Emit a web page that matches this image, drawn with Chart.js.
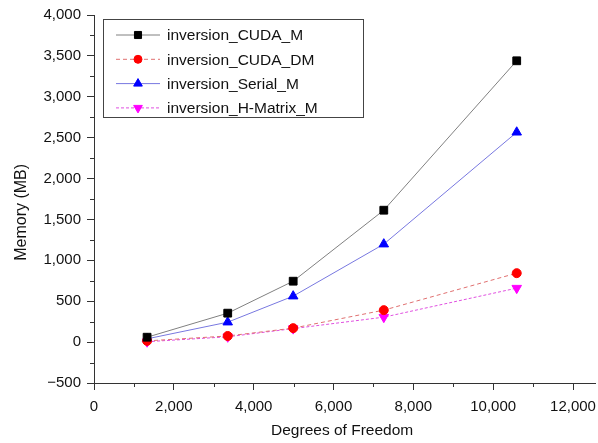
<!DOCTYPE html>
<html>
<head>
<meta charset="utf-8">
<script src="https://cdn.jsdelivr.net/npm/chart.js@4.4.0/dist/chart.umd.min.js"></script>
<style>
  body { margin: 0; background: #fff; }
  #wrap { width: 598px; height: 443px; }
</style>
</head>
<body>
<div id="wrap"><canvas id="memChart" width="598" height="443"></canvas></div>
<script>
// Data
const dof = [1330, 3350, 4990, 7260, 10590];
const cudaM = [60, 354, 745, 1613, 3440];
const cudaDM = [15, 75, 171, 391, 843];
const serialM = [40, 244, 562, 1198, 2566];
const hMatrixM = [5, 65, 165, 305, 660];

const seriesNames = ['inversion_CUDA_M', 'inversion_CUDA_DM', 'inversion_Serial_M', 'inversion_H-Matrix_M'];
const xTicks = [0, 2000, 4000, 6000, 8000, 10000, 12000];
const yTicks = [-500, 0, 500, 1000, 1500, 2000, 2500, 3000, 3500, 4000];

const FONT = "'Liberation Sans', Arial, sans-serif";
const NB = '\u00a0';

function toPoints(ys) {
    return dof.map((x, i) => ({ x: x, y: ys[i] }));
}

function fmt(v) {
    let s = Math.abs(v).toLocaleString('en-US');
    return v < 0 ? '\u2212' + s : s;
}

const styles = [
    { line: '#808080', fill: '#000000', shape: 'rect', r: 5.5, rot: 0, dash: [] },
    { line: '#e07070', fill: '#ff0000', shape: 'circle', r: 4.5, rot: 0, dash: [4, 3] },
    { line: '#7878e0', fill: '#0000ff', shape: 'triangle', r: 5.5, rot: 0, dash: [] },
    { line: '#e050e0', fill: '#ff00ff', shape: 'triangle', r: 5.5, rot: 180, dash: [3, 2] }
];
const values = [cudaM, cudaDM, serialM, hMatrixM];

// minor ticks, axis extension and boxed legend
const extras = {
    id: 'extras',
    afterDraw(chart) {
        const ctx = chart.ctx;
        const xs = chart.scales.x, ys = chart.scales.y;
        const area = chart.chartArea;
        ctx.save();
        ctx.strokeStyle = '#333';
        ctx.lineWidth = 1;
        ctx.beginPath();
        // x axis runs on past the last tick
        ctx.moveTo(area.right, area.bottom + 0.5);
        ctx.lineTo(596, area.bottom + 0.5);
        for (let v = 1000; v < 12000; v += 2000) {
            let px = Math.round(xs.getPixelForValue(v)) + 0.5;
            ctx.moveTo(px, area.bottom);
            ctx.lineTo(px, area.bottom + 4);
        }
        for (let v = -250; v < 4000; v += 500) {
            let py = Math.round(ys.getPixelForValue(v)) + 0.5;
            ctx.moveTo(area.left, py);
            ctx.lineTo(area.left - 4, py);
        }
        ctx.stroke();

        // legend
        const bx = 103, by = 19, bw = 260, bh = 98;
        ctx.fillStyle = '#fff';
        ctx.fillRect(bx, by, bw, bh);
        ctx.strokeStyle = '#444';
        ctx.strokeRect(bx + 0.5, by + 0.5, bw, bh);
        ctx.font = '15.5px ' + FONT;
        ctx.textBaseline = 'middle';
        chart.data.datasets.forEach((ds, i) => {
            const y = 35 + i * 24.3;
            const st = styles[i];
            ctx.strokeStyle = st.line;
            ctx.setLineDash(st.dash);
            ctx.beginPath();
            ctx.moveTo(116, y);
            ctx.lineTo(160, y);
            ctx.stroke();
            ctx.setLineDash([]);
            ctx.fillStyle = st.fill;
            ctx.strokeStyle = st.fill;
            Chart.helpers.drawPoint(ctx, { pointStyle: st.shape, rotation: st.rot, radius: st.r - 0.5, borderWidth: 1 }, 138, y);
            ctx.fillStyle = '#111';
            ctx.fillText(ds.label, 167, y + 1);
        });
        ctx.restore();
    }
};

const ctx = document.getElementById('memChart');
new Chart(ctx, {
    type: 'scatter',
    data: {
        datasets: seriesNames.map((name, i) => ({
            label: name,
            data: toPoints(values[i]),
            showLine: true,
            borderColor: styles[i].line,
            borderWidth: 1,
            borderDash: styles[i].dash,
            pointStyle: styles[i].shape,
            rotation: styles[i].rot,
            pointRadius: styles[i].r,
            pointBackgroundColor: styles[i].fill,
            pointBorderColor: styles[i].fill,
            pointBorderWidth: 1
        }))
    },
    options: {
        responsive: false,
        animation: false,
        layout: { padding: { left: 0, top: 15, right: 25, bottom: 0 } },
        plugins: { legend: { display: false }, tooltip: { enabled: false } },
        scales: {
            x: {
                type: 'linear',
                min: 0,
                max: 12000,
                afterBuildTicks: s => { s.ticks = xTicks.map(v => ({ value: v })); },
                afterFit: s => { s.height = 60; s.paddingLeft = 0; s.paddingRight = 0; },
                grid: { drawOnChartArea: false, tickLength: 7, tickColor: '#333' },
                border: { color: '#333', width: 1 },
                ticks: { color: '#111', font: { family: FONT, size: 15 }, padding: 8, callback: v => fmt(v), maxRotation: 0 },
                // leading spaces nudge the centred title right, as in the figure
                title: { display: true, text: NB.repeat(4) + 'Degrees of Freedom', color: '#111', font: { family: FONT, size: 15.5 }, padding: { top: 0, bottom: 3 } }
            },
            y: {
                min: -500,
                max: 4000,
                afterBuildTicks: s => { s.ticks = yTicks.map(v => ({ value: v })); },
                afterFit: s => { s.width = 94; s.paddingTop = 0; s.paddingBottom = 0; },
                grid: { drawOnChartArea: false, tickLength: 7, tickColor: '#333' },
                border: { color: '#333', width: 1 },
                ticks: { color: '#111', font: { family: FONT, size: 15 }, padding: 6, callback: v => fmt(v) },
                // trailing spaces push the centred title down a little
                title: { display: true, text: 'Memory (MB)' + NB.repeat(6), color: '#111', font: { family: FONT, size: 16 }, padding: { top: 12, bottom: 0 } }
            }
        }
    },
    plugins: [extras]
});
</script>
</body>
</html>
